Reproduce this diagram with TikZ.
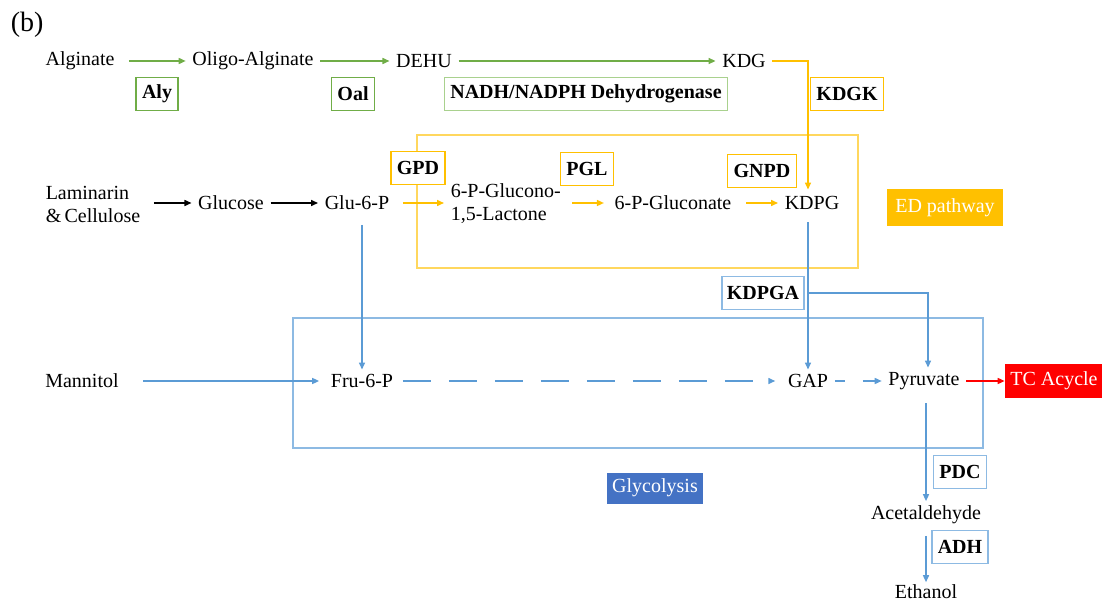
\documentclass[tikz,border=0pt]{standalone}
\usepackage{fontspec}
\setmainfont{Liberation Serif}
\usetikzlibrary{arrows.meta,positioning}
\definecolor{algGreen}{HTML}{70AD47}
\definecolor{dehGreen}{HTML}{A9D18E}
\definecolor{edYellow}{HTML}{FFC000}
\definecolor{edLight}{HTML}{FFD75E}
\definecolor{glyBlue}{HTML}{5B9BD5}
\definecolor{glyLight}{HTML}{8DBAE3}
\definecolor{glyFill}{HTML}{4472C4}
\begin{document}
\begin{tikzpicture}[x=0.5pt, y=-0.5pt, every node/.style={font=\fontsize{10}{11.5}\selectfont, inner xsep=3pt, inner ysep=2pt}, enz/.style={draw, fill=white, line width=0.75pt, font=\fontsize{10}{11.5}\selectfont\bfseries, minimum height=16.5pt, inner xsep=3pt}, pathbox/.style={text=white, minimum height=17pt, inner xsep=2.5pt}, >={Triangle[length=3.5pt,width=3pt]}, line width=0.75pt]
\useasboundingbox (0,0) rectangle (1102,604);
\draw[edLight] (417,135) rectangle (858,268);
\draw[glyLight] (293,318) rectangle (983,448);
\node[anchor=west, inner sep=0pt, font=\fontsize{14}{16}\selectfont] (lbl) at (10,25) {(b)};
\node (alg) at (80,61) {Alginate};
\node (olig) at (253,61) {Oligo-Alginate};
\node (dehu) at (424,61) {DEHU};
\node (kdg) at (744,61) {KDG};
\node[enz, draw=algGreen] (aly) at (157,94) {Aly};
\node[enz, draw=algGreen] (oal) at (353,94) {Oal};
\node[enz, draw=dehGreen] (nadh) at (586,94) {NADH/NADPH Dehydrogenase};
\node[enz, draw=edYellow] (kdgk) at (847,94) {KDGK};
\node[anchor=west, align=left] (lam) at (39,204) {Laminarin\\\&\,Cellulose};
\node (glc) at (231,203) {Glucose};
\node (g6p) at (357,203) {Glu-6-P};
\node[anchor=west, align=left] (lac) at (444,204) {6-P-Glucono-\\1,5-Lactone};
\node (gluc) at (673,203) {6-P-Gluconate};
\node (kdpg) at (812,203) {KDPG};
\node[pathbox, fill=edYellow, minimum height=18.5pt, inner xsep=4pt] (ed) at (945,208) {ED pathway};
\node[enz, draw=edYellow] (gpd) at (418,168) {GPD};
\node[enz, draw=edYellow] (pgl) at (587,169) {PGL};
\node[enz, draw=edYellow] (gnpd) at (762,171) {GNPD};
\node[enz, draw=glyLight, inner xsep=2.5pt] (kdpga) at (763,293) {KDPGA};
\node (man) at (82,381) {Mannitol};
\node (f6p) at (362,381) {Fru-6-P};
\node (gap) at (808,381) {GAP};
\node (pyr) at (924,381) {Pyruvate};
\node[pathbox, fill=red] (tca) at (1054,381) {TC Acycle};
\node[pathbox, fill=glyFill, minimum height=15.5pt] (gly) at (655,488) {Glycolysis};
\node[enz, draw=glyLight] (pdc) at (960,472) {PDC};
\node (acet) at (926,515) {Acetaldehyde};
\node[enz, draw=glyLight] (adh) at (960,547) {ADH};
\node (eth) at (926,592) {Ethanol};
\draw[->, algGreen, shorten <=3.8pt] (alg) -- (olig); \draw[->, algGreen] (olig) -- (dehu); \draw[->, algGreen] (dehu) -- (kdg);
\draw[->, edYellow] (kdg.east) -| ([yshift=1pt]gap.north |- kdpg.north);
\draw[->, shorten <=3.5pt] (lam.east |- glc.west) -- (glc.west); \draw[->] (glc) -- (g6p);
\draw[->, edYellow, shorten <=3.5pt] (g6p.east) -- (lac.west |- g6p.east);
\draw[->, edYellow, shorten <=2.5pt, shorten >=2pt] (lac.east |- gluc.west) -- (gluc.west);
\draw[->, edYellow, shorten <=4pt] (gluc) -- (kdpg);
\draw[->, glyBlue, shorten <=5pt] (g6p.south -| f6p.north) -- (f6p.north);
\draw[->, glyBlue, shorten <=4pt] (kdpg.south -| gap.north) -- (gap.north);
\draw[->, glyBlue] (kdpga.east -| gap.north) -| ([xshift=2pt]pyr.north);
\draw[->, glyBlue, shorten <=9pt, shorten >=2.5pt] (man) -- (f6p);
\draw[->, glyBlue, dash pattern=on 14pt off 9pt, shorten <=1.5pt, shorten >=3pt] (f6p) -- (gap);
\draw[->, glyBlue, dash pattern=on 5pt off 9pt on 10pt off 9pt] (gap) -- (pyr);
\draw[->, red] (pyr) -- (tca);
\draw[->, glyBlue, shorten <=4.5pt] (acet.north |- pyr.south) -- (acet.north);
\draw[->, glyBlue, shorten <=3.5pt, shorten >=-1pt] (acet) -- (eth);
\end{tikzpicture}
\end{document}
